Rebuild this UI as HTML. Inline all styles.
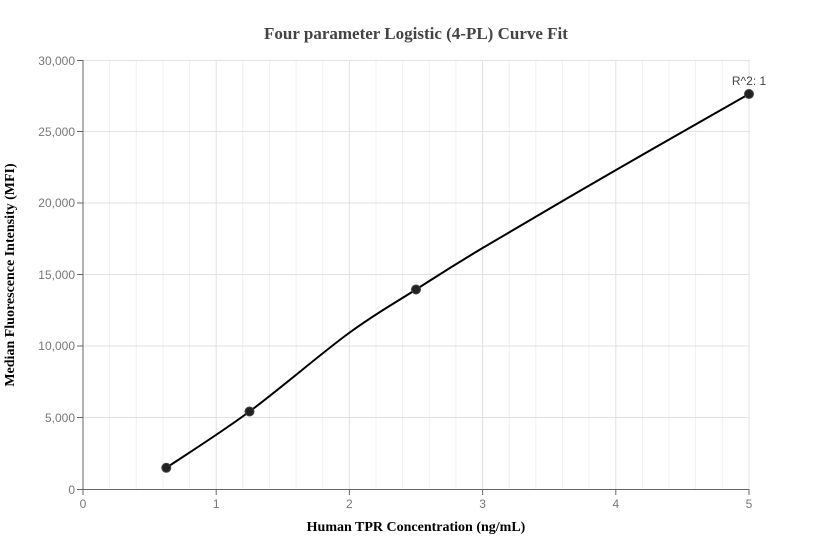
<!DOCTYPE html>
<html><head><style>body{margin:0;background:#fff}svg{display:block}</style></head><body>
<svg width="832" height="560" xmlns="http://www.w3.org/2000/svg" font-family="Liberation Sans, sans-serif">
<rect width="832" height="560" fill="#fff"/>
<g stroke="#f0f0f0" stroke-width="1">
<line x1="109.6" y1="60" x2="109.6" y2="489"/><line x1="136.3" y1="60" x2="136.3" y2="489"/><line x1="162.9" y1="60" x2="162.9" y2="489"/><line x1="189.6" y1="60" x2="189.6" y2="489"/>
<line x1="242.8" y1="60" x2="242.8" y2="489"/><line x1="269.5" y1="60" x2="269.5" y2="489"/><line x1="296.1" y1="60" x2="296.1" y2="489"/><line x1="322.7" y1="60" x2="322.7" y2="489"/>
<line x1="376" y1="60" x2="376" y2="489"/><line x1="402.6" y1="60" x2="402.6" y2="489"/><line x1="429.3" y1="60" x2="429.3" y2="489"/><line x1="455.9" y1="60" x2="455.9" y2="489"/>
<line x1="509.2" y1="60" x2="509.2" y2="489"/><line x1="535.8" y1="60" x2="535.8" y2="489"/><line x1="562.5" y1="60" x2="562.5" y2="489"/><line x1="589.1" y1="60" x2="589.1" y2="489"/>
<line x1="642.4" y1="60" x2="642.4" y2="489"/><line x1="669" y1="60" x2="669" y2="489"/><line x1="695.6" y1="60" x2="695.6" y2="489"/><line x1="722.3" y1="60" x2="722.3" y2="489"/>
</g>
<g stroke="#e2e2e2" stroke-width="1">
<line x1="216.2" y1="60" x2="216.2" y2="489"/><line x1="349.4" y1="60" x2="349.4" y2="489"/><line x1="482.6" y1="60" x2="482.6" y2="489"/><line x1="615.8" y1="60" x2="615.8" y2="489"/><line x1="749" y1="60" x2="749" y2="489"/>
<line x1="83" y1="60.5" x2="749" y2="60.5"/><line x1="83" y1="131.5" x2="749" y2="131.5"/><line x1="83" y1="203" x2="749" y2="203"/><line x1="83" y1="274.5" x2="749" y2="274.5"/><line x1="83" y1="346" x2="749" y2="346"/><line x1="83" y1="417.5" x2="749" y2="417.5"/>
</g>
<g stroke="#666" stroke-width="1">
<line x1="83" y1="60" x2="83" y2="489.5"/><line x1="83" y1="489.5" x2="749" y2="489.5"/>
<line x1="77" y1="60.5" x2="83" y2="60.5"/><line x1="77" y1="131.5" x2="83" y2="131.5"/><line x1="77" y1="203" x2="83" y2="203"/><line x1="77" y1="274.5" x2="83" y2="274.5"/><line x1="77" y1="346" x2="83" y2="346"/><line x1="77" y1="417.5" x2="83" y2="417.5"/><line x1="77" y1="489.5" x2="83" y2="489.5"/>
<line x1="83" y1="489" x2="83" y2="495"/><line x1="216.2" y1="489" x2="216.2" y2="495"/><line x1="349.4" y1="489" x2="349.4" y2="495"/><line x1="482.6" y1="489" x2="482.6" y2="495"/><line x1="615.8" y1="489" x2="615.8" y2="495"/><line x1="749" y1="489" x2="749" y2="495"/>
</g>
<g fill="#777" font-size="12" text-anchor="end">
<text x="75" y="65">30,000</text><text x="75" y="136">25,000</text><text x="75" y="207">20,000</text><text x="75" y="279">15,000</text><text x="75" y="350">10,000</text><text x="75" y="422">5,000</text><text x="75" y="494">0</text>
</g>
<g fill="#777" font-size="12" text-anchor="middle">
<text x="83" y="508">0</text><text x="216.2" y="508">1</text><text x="349.4" y="508">2</text><text x="482.6" y="508">3</text><text x="615.8" y="508">4</text><text x="749" y="508">5</text>
</g>
<path d="M166.3,467.8 C180.2,458.4 219,434 249.5,411.5 C280,389 321.2,353.3 349,333 C376.8,312.7 393.7,303.7 416,289.5 C438.3,275.3 449.3,267.9 482.6,248 C515.9,228.1 571.6,195.7 616,170 C660.4,144.3 726.8,106.7 749,94" fill="none" stroke="#000" stroke-width="2"/>
<g fill="#222" stroke="#444" stroke-width="1">
<circle cx="166.3" cy="467.8" r="4.5"/><circle cx="249.5" cy="411.5" r="4.5"/><circle cx="416" cy="289.5" r="4.5"/><circle cx="749" cy="94" r="4.5"/>
</g>
<text x="749" y="85" fill="#444" font-size="12" text-anchor="middle">R^2: 1</text>
<text x="416" y="39" fill="#444" font-size="17" font-weight="bold" font-family="Liberation Serif, serif" text-anchor="middle">Four parameter Logistic (4-PL) Curve Fit</text>
<text x="416" y="531" fill="#000" font-size="14" font-weight="bold" font-family="Liberation Serif, serif" text-anchor="middle">Human TPR Concentration (ng/mL)</text>
<text transform="translate(14,275) rotate(-90)" fill="#000" font-size="14" font-weight="bold" font-family="Liberation Serif, serif" text-anchor="middle">Median Fluorescence Intensity (MFI)</text>
</svg>
</body></html>
